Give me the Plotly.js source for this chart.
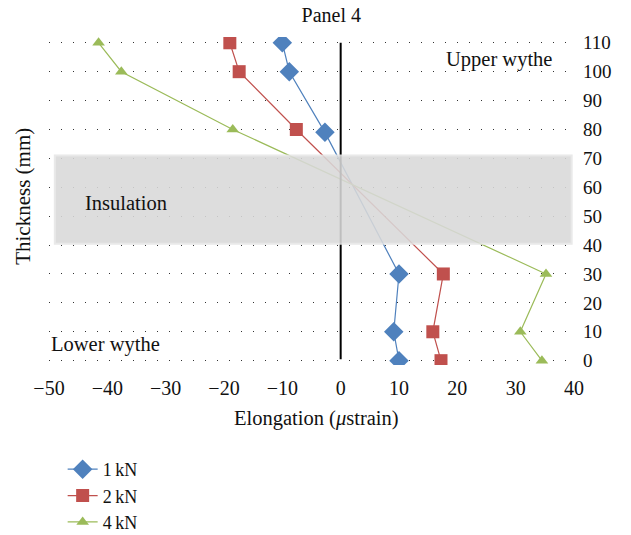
<!DOCTYPE html>
<html><head><meta charset="utf-8">
<script src="https://cdn.plot.ly/plotly-3.0.1.min.js"></script>
<style>body{margin:0;background:#fff}#c{width:631px;height:535px}</style>
</head><body><div id="c"></div>
<script>
const thickness = [110, 100, 80, 30, 10, 0];
const thickness1 = [110, 100, 79, 30, 10, 0];
const kn1 = [-10, -8.8, -2.7, 10, 9.1, 10];
const kn2 = [-19, -17.4, -7.6, 17.6, 15.8, 17.2];
const kn4 = [-41.5, -37.6, -18.5, 35.2, 30.8, 34.5];
const seriesNames = ['1\u2009kN', '2\u2009kN', '4\u2009kN'];
const yTicks = [0, 10, 20, 30, 40, 50, 60, 70, 80, 90, 100, 110];
const xTicks = [-50, -40, -30, -20, -10, 0, 10, 20, 30, 40];
const xTickText = ['\u221250', '\u221240', '\u221230', '\u221220', '\u221210', '0', '10', '20', '30', '40'];

const F = 'Liberation Serif, Times New Roman, serif';
const traces = [
  {x: kn1, y: thickness1, name: seriesNames[0], mode: 'lines+markers',
   line: {color: '#4f81bd', width: 1.2}, marker: {symbol: 'diamond', size: 15, color: '#4f81bd'}},
  {x: kn2, y: thickness, name: seriesNames[1], mode: 'lines+markers',
   line: {color: '#c0504d', width: 1.2}, marker: {symbol: 'square', size: 13, color: '#c0504d'}},
  {x: kn4, y: thickness, name: seriesNames[2], mode: 'lines+markers',
   line: {color: '#9bbb59', width: 1.2}, marker: {symbol: 'triangle-up', size: 11, color: '#9bbb59'}}
];
const layout = {
  width: 631, height: 535,
  margin: {l: 48.5, r: 57, t: 37, b: 170, autoexpand: false},
  paper_bgcolor: '#fff', plot_bgcolor: 'rgba(0,0,0,0)',
  font: {family: F, size: 19, color: '#111'},
  title: {text: 'Panel 4', x: 0.525, xanchor: 'center', y: 0.972, yanchor: 'middle', font: {family: F, size: 20}},
  showlegend: true,
  legend: {x: 0.026, y: -0.262, xanchor: 'left', yanchor: 'top', orientation: 'v',
           font: {family: F, size: 18}, bgcolor: 'rgba(0,0,0,0)', tracegroupgap: 0, itemwidth: 30},
  xaxis: {range: [-50, 40], tickvals: xTicks, ticktext: xTickText, showgrid: false, zeroline: false,
          showline: false, ticks: '', ticklabelstandoff: 9, tickfont: {family: F, size: 20}, fixedrange: true},
  yaxis: {range: [-1.5, 112], side: 'right', tickvals: yTicks, showgrid: true, gridcolor: '#333',
          griddash: '1px,11px', gridwidth: 1, zeroline: false, showline: false, ticks: '',
          ticklabelstandoff: 8, tickfont: {family: F, size: 19}, fixedrange: true},
  shapes: [
    {type: 'line', xref: 'x', yref: 'y', x0: 0, x1: 0, y0: 0.5, y1: 110, line: {color: '#000', width: 2}, layer: 'above'},
    {type: 'rect', xref: 'x', yref: 'y', x0: -49, x1: 39.6, y0: 40.5, y1: 71.0,
     fillcolor: '#d9d9d9', opacity: 0.88, line: {color: '#e6e6e6', width: 2}, layer: 'above'}
  ],
  annotations: [
    {text: 'Upper wythe', x: 27.2, y: 104.2, xref: 'x', yref: 'y', xanchor: 'center', showarrow: false, font: {family: F, size: 20.5}},
    {text: 'Insulation', x: -36.8, y: 54.5, xref: 'x', yref: 'y', xanchor: 'center', showarrow: false, font: {family: F, size: 20.5}},
    {text: 'Lower wythe', x: -40.4, y: 5.6, xref: 'x', yref: 'y', xanchor: 'center', showarrow: false, font: {family: F, size: 20.5}},
    {text: 'Thickness (mm)', x: -0.05, y: 0.515, xref: 'paper', yref: 'paper', xanchor: 'center', yanchor: 'middle', textangle: -90, showarrow: false, font: {family: F, size: 21}},
    {text: 'Elongation (<i>\u03bc</i>strain)', x: 0.509, y: -0.162, xref: 'paper', yref: 'paper', xanchor: 'center', yanchor: 'middle', showarrow: false, font: {family: F, size: 20.5}}
  ]
};
Plotly.newPlot('c', traces, layout, {displayModeBar: false, staticPlot: true});
</script></body></html>
